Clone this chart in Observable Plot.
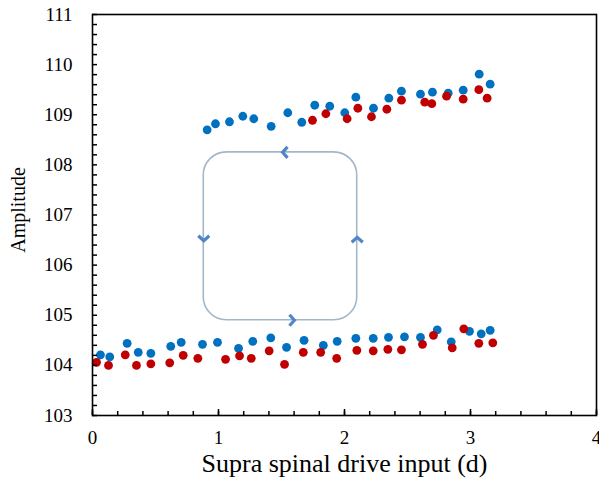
<!DOCTYPE html>
<html>
<head>
<meta charset="utf-8">
<script src="https://cdn.jsdelivr.net/npm/d3@7"></script>
<script src="https://cdn.jsdelivr.net/npm/@observablehq/plot@0.6"></script>
<style>
  html, body { margin: 0; padding: 0; background: white; }
</style>
</head>
<body>
<div id="chart"></div>
<script>
// Upper branch (blue)
const upperBlueX = [0.91, 0.976, 1.087, 1.193, 1.28, 1.418, 1.55, 1.661, 1.764, 1.883, 2.002, 2.09, 2.23, 2.352, 2.452, 2.603, 2.698, 2.823, 2.942, 3.069, 3.156];
const upperBlueY = [108.70, 108.82, 108.86, 108.97, 108.92, 108.77, 109.04, 108.85, 109.19, 109.17, 109.04, 109.35, 109.13, 109.33, 109.47, 109.41, 109.45, 109.43, 109.49, 109.81, 109.61];
// Upper branch (red)
const upperRedX = [1.746, 1.852, 2.021, 2.106, 2.214, 2.336, 2.452, 2.637, 2.693, 2.81, 2.942, 3.066, 3.132];
const upperRedY = [108.89, 109.02, 108.92, 109.13, 108.96, 109.11, 109.29, 109.25, 109.22, 109.37, 109.31, 109.50, 109.33];
// Lower branch (blue)
const lowerBlueX = [0.063, 0.137, 0.275, 0.363, 0.463, 0.621, 0.704, 0.873, 0.992, 1.159, 1.272, 1.415, 1.54, 1.679, 1.832, 1.942, 2.09, 2.228, 2.349, 2.476, 2.603, 2.736, 2.847, 2.992, 3.085, 3.156];
const lowerBlueY = [104.21, 104.17, 104.44, 104.26, 104.24, 104.38, 104.46, 104.42, 104.46, 104.34, 104.48, 104.55, 104.36, 104.50, 104.40, 104.48, 104.54, 104.54, 104.56, 104.57, 104.56, 104.71, 104.47, 104.68, 104.63, 104.70];
// Lower branch (red)
const lowerRedX = [0.032, 0.127, 0.26, 0.349, 0.463, 0.613, 0.72, 0.836, 1.056, 1.167, 1.26, 1.402, 1.524, 1.673, 1.811, 1.938, 2.098, 2.228, 2.344, 2.452, 2.619, 2.706, 2.855, 2.947, 3.066, 3.177];
const lowerRedY = [104.06, 104.00, 104.21, 104.00, 104.03, 104.05, 104.20, 104.14, 104.12, 104.19, 104.14, 104.29, 104.02, 104.26, 104.26, 104.14, 104.30, 104.29, 104.32, 104.31, 104.42, 104.60, 104.35, 104.73, 104.44, 104.45];

// Hysteresis loop annotation (data coordinates)
const loopBox = [{x1: 0.883, x2: 2.101, y1: 104.90, y2: 108.25}];
const arrowLeft = [{x: 1.526, y: 108.25}];
const arrowRight = [{x: 1.585, y: 104.90}];
const arrowDown = [{x: 0.883, y: 106.53}];
const arrowUp = [{x: 2.101, y: 106.51}];

// Tick labels
const xTicks = [0, 1, 2, 3, 4];
const yTicks = [103, 104, 105, 106, 107, 108, 109, 110, 111];
const xMinor = d3.range(0, 4.001, 0.2).map(v => +v.toFixed(1));
const yMinor = d3.range(103, 111.001, 0.2).map(v => +v.toFixed(1));

const xLabel = "Supra spinal drive input (d)";
const yLabel = "Amplitude";

const serif = "'Liberation Serif', 'Times New Roman', serif";
const toPts = (xs, ys) => xs.map((x, i) => ({x, y: ys[i]}));

function chevron(dir) {
  return {
    draw(context, size) {
      const r = Math.sqrt(size / Math.PI);
      const c = Math.cos(dir), s = Math.sin(dir);
      const pts = [[-r * 0.5, -r], [r * 0.4, 0], [-r * 0.5, r]];
      const t = pts.map(([px, py]) => [px * c - py * s, px * s + py * c]);
      context.moveTo(t[0][0], t[0][1]);
      context.lineTo(t[1][0], t[1][1]);
      context.lineTo(t[2][0], t[2][1]);
    }
  };
}

const arrowColor = "#4f86c6";
const chevOpts = {x: "x", y: "y", r: 5.5, fill: "none", stroke: arrowColor, strokeWidth: 3.2, strokeLinejoin: "miter", strokeLinecap: "butt"};

const chart = Plot.plot({
  width: 599,
  height: 484,
  marginLeft: 92,
  marginRight: 3,
  marginTop: 14,
  marginBottom: 69,
  x: {domain: [0, 4]},
  y: {domain: [103, 111]},
  style: {fontFamily: serif, fontSize: "19px", color: "black", background: "white"},
  marks: [
    Plot.rect(loopBox, {x1: "x1", x2: "x2", y1: "y1", y2: "y2", rx: 23, ry: 23, fill: "none", stroke: "#a3b7ca", strokeWidth: 1.6}),
    Plot.dot(arrowLeft, {...chevOpts, symbol: chevron(Math.PI)}),
    Plot.dot(arrowRight, {...chevOpts, symbol: chevron(0)}),
    Plot.dot(arrowDown, {...chevOpts, symbol: chevron(Math.PI / 2)}),
    Plot.dot(arrowUp, {...chevOpts, symbol: chevron(-Math.PI / 2)}),
    Plot.dot(toPts(upperBlueX, upperBlueY), {x: "x", y: "y", r: 4.4, fill: "#0070c0"}),
    Plot.dot(toPts(lowerBlueX, lowerBlueY), {x: "x", y: "y", r: 4.4, fill: "#0070c0"}),
    Plot.dot(toPts(upperRedX, upperRedY), {x: "x", y: "y", r: 4.4, fill: "#c00000"}),
    Plot.dot(toPts(lowerRedX, lowerRedY), {x: "x", y: "y", r: 4.4, fill: "#c00000"}),
    Plot.ruleX(xMinor, {x: d => d, insetTop: 397, stroke: "black", strokeWidth: 1.5}),
    Plot.ruleX(xTicks, {x: d => d, insetTop: 395, stroke: "black", strokeWidth: 1.5}),
    Plot.ruleY(yMinor, {y: d => d, insetRight: 499, stroke: "black", strokeWidth: 1.5}),
    Plot.frame({stroke: "black", strokeWidth: 1.6}),
    Plot.axisX(xTicks, {tickSize: 0, tickPadding: 15, fontSize: 19, fontFamily: serif, tickFormat: d3.format("d"), label: null}),
    Plot.axisY(yTicks, {tickSize: 0, tickPadding: 20, fontSize: 19, fontFamily: serif, tickFormat: d3.format("d"), label: null}),
    Plot.text([xLabel], {frameAnchor: "bottom", dy: 56, fontSize: 26, fontFamily: serif, text: d => d}),
    Plot.text([yLabel], {frameAnchor: "left", textAnchor: "middle", dx: -74, dy: -5, rotate: -90, fontSize: 20, fontFamily: serif, text: d => d})
  ]
});
document.getElementById("chart").appendChild(chart);
</script>
</body>
</html>
